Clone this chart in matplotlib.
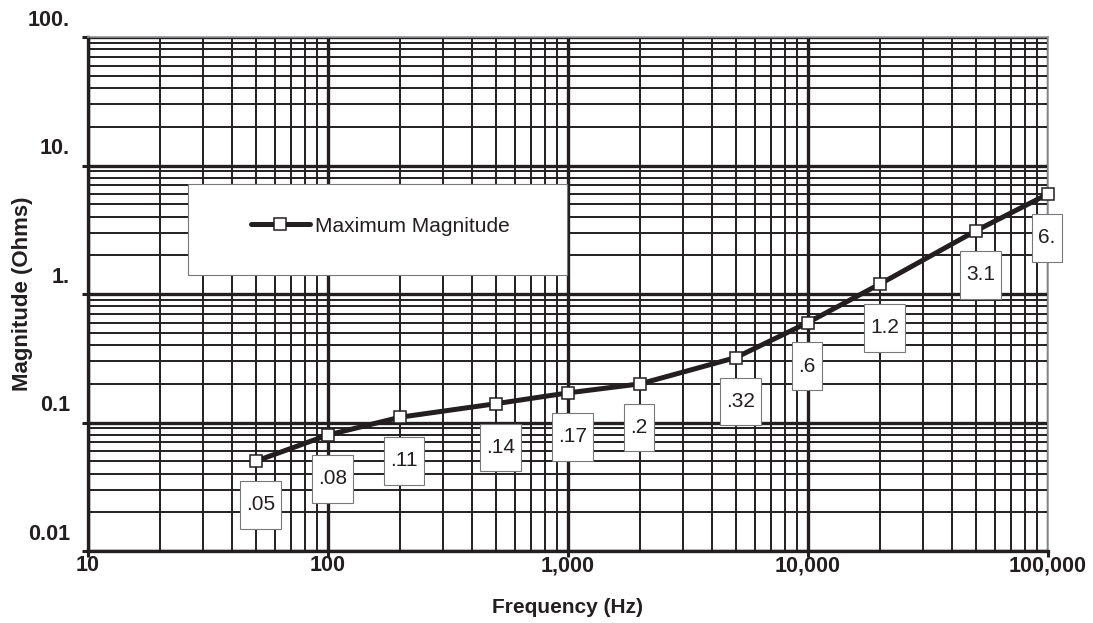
import matplotlib
matplotlib.use('Agg')
import matplotlib.pyplot as plt
import matplotlib.transforms as mtransforms
from matplotlib.patches import Rectangle
from matplotlib.path import Path
from matplotlib.ticker import LogLocator, FixedLocator, NullFormatter

plt.rcParams['font.family'] = ['Liberation Sans', 'DejaVu Sans']

# data
freq = [50, 100, 200, 500, 1000, 2000, 5000, 10000, 20000, 50000, 100000]
mag = [0.05, 0.08, 0.11, 0.14, 0.17, 0.2, 0.32, 0.6, 1.2, 3.1, 6.0]
point_labels = ['.05', '.08', '.11', '.14', '.17', '.2', '.32', '.6', '1.2', '3.1', '6.']

x_ticks = [10, 100, 1000, 10000, 100000]
x_ticklabels = ['10', '100', '1,000', '10,000', '100,000']
y_ticks = [0.01, 0.1, 1, 10, 100]
y_ticklabels = ['0.01', '0.1', '1.', '10.', '100.']

ink = '#231f20'
edge_gray = '#77787b'


def tall_box(x0, y0, width, height, mutation_size):
    # box with more padding above/below than at the sides
    px = 0.29 * mutation_size
    py = 0.69 * mutation_size
    x0, y0 = x0 - px, y0 - py
    x1, y1 = x0 + width + 2 * px, y0 + height + 2 * py
    return Path([(x0, y0), (x1, y0), (x1, y1), (x0, y1), (x0, y0)], closed=True)


fig = plt.figure(figsize=(10.93, 6.23), dpi=100)
ax = fig.add_axes([88 / 1093, 72 / 623, 960 / 1093, 514 / 623])

ax.set_xscale('log')
ax.set_yscale('log')
ax.set_xlim(10, 100000)
ax.set_ylim(0.01, 100)

ax.xaxis.set_major_locator(FixedLocator(x_ticks))
ax.yaxis.set_major_locator(FixedLocator(y_ticks))
ax.xaxis.set_minor_locator(LogLocator(base=10, subs=range(2, 10), numticks=20))
ax.yaxis.set_minor_locator(LogLocator(base=10, subs=range(2, 10), numticks=20))
ax.xaxis.set_minor_formatter(NullFormatter())
ax.yaxis.set_minor_formatter(NullFormatter())
ax.set_xticklabels(x_ticklabels, fontsize=15.5, fontweight='bold', color=ink)
ax.set_yticklabels(y_ticklabels, fontsize=15.5, fontweight='bold', color=ink)

ax.set_axisbelow(True)
ax.grid(True, which='major', color=ink, linewidth=2.4)
ax.grid(True, which='minor', color=ink, linewidth=1.4)

ax.tick_params(which='major', direction='out', length=4.5, width=2.2, color=ink)
ax.tick_params(axis='x', which='major', pad=-1.5)
ax.tick_params(axis='y', which='major', pad=8.5)
ax.tick_params(which='minor', length=0)

# y tick labels sit above their gridline
shift = mtransforms.ScaledTranslation(0, 4.5 / 72, fig.dpi_scale_trans)
for lab in ax.get_yticklabels():
    lab.set_verticalalignment('bottom')
    lab.set_transform(lab.get_transform() + shift)

for side in ['left', 'bottom']:
    ax.spines[side].set_color(ink)
    ax.spines[side].set_linewidth(2.4)
for side in ['top', 'right']:
    ax.spines[side].set_color('#939598')
    ax.spines[side].set_linewidth(1.2)

line, = ax.plot(freq, mag, color=ink, linewidth=3.6, marker='s', markersize=8.5,
                markerfacecolor='white', markeredgecolor=ink, markeredgewidth=1.1,
                solid_capstyle='round', zorder=4, clip_on=False,
                label='Maximum Magnitude')

for fx, my, txt in zip(freq, mag, point_labels):
    ax.annotate(txt, (fx, my), xytext=(-7.1, -24.7), textcoords='offset points',
                ha='left', va='top', fontsize=15, color=ink, zorder=5,
                bbox=dict(boxstyle=tall_box, fc='white', ec=edge_gray, lw=0.8))

# legend box
ax.add_patch(Rectangle((0.104, 0.537), 0.395, 0.177, transform=ax.transAxes,
                       facecolor='white', edgecolor=edge_gray, linewidth=0.8, zorder=3))
ax.legend(handles=[line], loc='center', bbox_to_anchor=(0.3045, 0.632), frameon=False,
          fontsize=15, handlelength=2.8, handletextpad=0.25, labelcolor=ink)

ax.set_xlabel('Frequency (Hz)', fontsize=15, fontweight='bold', color=ink)
ax.xaxis.set_label_coords(0.5, -0.0914)
ax.set_ylabel('Magnitude (Ohms)', fontsize=16, fontweight='bold', color=ink)
ax.yaxis.set_label_coords(-0.057, 0.5)

fig.savefig('out.png', dpi=100)
